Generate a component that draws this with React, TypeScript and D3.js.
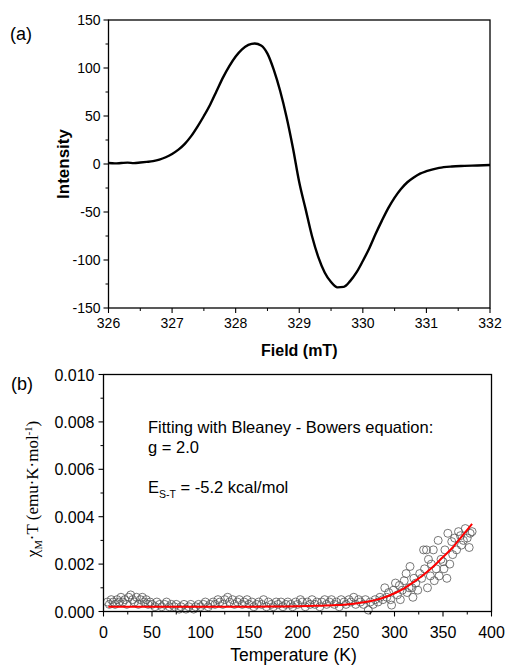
import React from "react";
import * as d3 from "d3";

// ---------- Panel (a): EPR spectrum ----------
const fieldMT = [326.0, 326.1, 326.2, 326.3, 326.4, 326.5, 326.6, 326.7, 326.8, 326.9, 327.0, 327.1, 327.2, 327.3, 327.4, 327.5, 327.6, 327.7, 327.8, 327.9, 328.0, 328.1, 328.2, 328.3, 328.4, 328.5, 328.6, 328.7, 328.8, 328.9, 329.0, 329.1, 329.2, 329.3, 329.4, 329.5, 329.6, 329.7, 329.8, 329.9, 330.0, 330.1, 330.2, 330.3, 330.4, 330.5, 330.6, 330.7, 330.8, 330.9, 331.0, 331.2, 331.4, 331.6, 331.8, 332.0];
const intensity = [1, 0.6, 1, 1.4, 0.9, 1.5, 2.2, 3, 4.5, 7, 10.5, 15, 21, 29, 39, 50, 62, 76, 90, 102, 112, 119.5, 124, 125.5, 123.5, 115, 98, 76, 49, 17, -19, -47, -75, -97, -113, -123, -128.5, -128, -122, -113, -101, -88, -73, -59, -46, -35, -26, -19, -14, -10, -7.5, -4, -2.6, -2, -1.5, -1];
const fieldTicks = [326, 327, 328, 329, 330, 331, 332];
const intensityTicks = [150, 100, 50, 0, -50, -100, -150];

// ---------- Panel (b): chi_M T vs T ----------
const tempK = [4, 6, 8, 10, 12, 14, 16, 18, 20, 22, 24, 26, 28, 30, 32, 34, 36, 38, 40, 42, 44, 46, 48, 50, 53, 55, 58, 60, 63, 65, 68, 70, 73, 75, 78, 80, 83, 85, 88, 90, 93, 95, 98, 100, 103, 105, 108, 110, 113, 115, 118, 120, 123, 125, 128, 130, 133, 135, 138, 140, 143, 145, 148, 150, 153, 155, 158, 160, 163, 165, 168, 170, 173, 175, 178, 180, 183, 185, 188, 190, 193, 195, 198, 200, 203, 205, 208, 210, 213, 215, 218, 220, 223, 225, 228, 230, 233, 235, 238, 240, 243, 245, 248, 250, 253, 255, 258, 260, 263, 265, 268, 270, 273, 275, 278, 280, 283, 285, 288, 290, 292, 294, 296, 297, 299, 301, 303, 305, 306, 308, 310, 312, 313, 315, 316, 318, 319, 320, 322, 324, 326, 328, 330, 331, 333, 334, 335, 337, 338, 340, 341, 343, 345, 346, 348, 350, 351, 352, 354, 355, 357, 359, 360, 362, 364, 366, 368, 369, 371, 373, 375, 377, 378, 380];
const chiT = [0.0004, 0.0003, 0.0005, 0.0004, 0.0003, 0.0005, 0.0004, 0.0006, 0.0004, 0.0005, 0.0003, 0.0006, 0.0007, 0.0005, 0.0004, 0.0006, 0.0003, 0.0005, 0.0006, 0.0004, 0.0005, 0.0003, 0.0004, 0.0003, 0.0002, 0.0004, 0.0003, 0.0002, 0.0003, 0.0004, 0.0002, 0.0003, 0.0002, 0.0003, 0.0001, 0.0002, 0.0003, 0.0001, 0.0002, 0.0003, 0.0001, 0.0002, 0.0003, 0.0002, 0.0003, 0.0004, 0.0002, 0.0003, 0.0004, 0.0003, 0.0005, 0.0004, 0.0003, 0.0005, 0.0006, 0.0004, 0.0005, 0.0003, 0.0004, 0.0005, 0.0003, 0.0004, 0.0005, 0.0003, 0.0004, 0.0002, 0.0003, 0.0004, 0.0003, 0.0005, 0.0002, 0.0004, 0.0003, 0.0002, 0.0004, 0.0003, 0.0004, 0.0002, 0.0003, 0.0004, 0.0003, 0.0002, 0.0004, 0.0003, 0.0005, 0.0004, 0.0002, 0.0004, 0.0003, 0.0005, 0.0003, 0.0004, 0.0002, 0.0004, 0.0005, 0.0003, 0.0004, 0.0005, 0.0003, 0.0004, 0.0002, 0.0005, 0.0004, 0.0003, 0.0005, 0.0004, 0.0006, 0.0003, 0.0005, 0.0004, 0.0003, 0.0005, 0.00006, 0.0004, 0.0003, 0.0005, 0.0004, 0.0006, 0.0005, 0.0010, 0.0006, 0.0008, 0.0005, 0.00027, 0.0009, 0.0012, 0.0007, 0.0011, 0.0005, 0.0009, 0.0013, 0.0016, 0.0008, 0.0010, 0.0019, 0.0010, 0.0006, 0.0014, 0.0012, 0.0009, 0.0016, 0.0014, 0.0026, 0.0018, 0.0026, 0.0010, 0.0022, 0.0015, 0.0020, 0.0026, 0.0013, 0.0018, 0.0030, 0.0015, 0.0022, 0.0021, 0.0018, 0.0026, 0.0014, 0.0033, 0.0020, 0.00295, 0.0024, 0.0031, 0.0026, 0.00337, 0.0032, 0.0028, 0.0030, 0.0035, 0.0031, 0.0027, 0.0033, 0.00337];
const fitT = [5, 50, 100, 150, 180, 200, 220, 240, 250, 260, 270, 280, 290, 300, 310, 320, 330, 340, 350, 360, 370, 380];
const fitChiT = [0.0002, 0.0002, 0.0002, 0.0002, 0.00021, 0.00022, 0.00024, 0.00027, 0.0003, 0.00034, 0.0004, 0.00048, 0.0006, 0.00077, 0.00098, 0.00125, 0.00155, 0.0019, 0.0023, 0.0027, 0.0032, 0.0037];
const tempTicks = [0, 50, 100, 150, 200, 250, 300, 350, 400];
const chiTicks = [0, 0.002, 0.004, 0.006, 0.008, 0.01];

const SANS = "Arial, 'Liberation Sans', sans-serif";
const SERIF = "'Times New Roman', 'Liberation Serif', serif";

export default function App() {
  const ax = d3.scaleLinear().domain([326, 332]).range([108.5, 490]);
  const ay = d3.scaleLinear().domain([-150, 150]).range([308, 20]);
  const eprLine = d3
    .line<number>()
    .x((_, i) => ax(fieldMT[i]))
    .y((d) => ay(d))
    .curve(d3.curveMonotoneX);

  const bx = d3.scaleLinear().domain([0, 400]).range([103.5, 491.5]);
  const by = d3.scaleLinear().domain([0, 0.01]).range([611.5, 374.5]);
  const fitLine = d3
    .line<number>()
    .x((_, i) => bx(fitT[i]))
    .y((d) => by(d))
    .curve(d3.curveMonotoneX);

  const aMinorX = d3.range(326, 332.01, 0.5).filter((v) => !fieldTicks.includes(v));
  const aMinorY = d3.range(-150, 150.01, 25).filter((v) => !intensityTicks.includes(v));
  const bMinorX = d3.range(0, 400.1, 25).filter((v) => !tempTicks.includes(v));
  const bMinorY = [0.001, 0.003, 0.005, 0.007, 0.009];

  const [ax0, ax1] = ax.range();
  const [ay0, ay1] = ay.range();
  const [bx0, bx1] = bx.range();
  const [by0, by1] = by.range();

  return (
    <svg
      width={506}
      height={665}
      style={{ position: "absolute", left: 0, top: 0, background: "#fff" }}
      fontFamily={SANS}
    >
      <rect x={0} y={0} width={506} height={665} fill="#fff" />

      {/* ---------------- Panel (a) ---------------- */}
      <text x={10} y={40} fontSize={18}>(a)</text>
      <path d={eprLine(intensity) || ""} fill="none" stroke="#000" strokeWidth={2.4} strokeLinejoin="round" />
      <rect x={ax0} y={ay1} width={ax1 - ax0} height={ay0 - ay1} fill="none" stroke="#000" strokeWidth={1.3} />
      {fieldTicks.map((t) => (
        <g key={"ax" + t}>
          <line x1={ax(t)} x2={ax(t)} y1={ay0} y2={ay0 + 5} stroke="#000" strokeWidth={1.1} />
          <text x={ax(t)} y={ay0 + 20} fontSize={14} textAnchor="middle">{t}</text>
        </g>
      ))}
      {aMinorX.map((t) => (
        <line key={"amx" + t} x1={ax(t)} x2={ax(t)} y1={ay0} y2={ay0 + 3} stroke="#000" strokeWidth={1} />
      ))}
      {intensityTicks.map((t) => (
        <g key={"ay" + t}>
          <line x1={ax0 - 5} x2={ax0} y1={ay(t)} y2={ay(t)} stroke="#000" strokeWidth={1.1} />
          <text x={ax0 - 8} y={ay(t) + 5} fontSize={14} textAnchor="end">{t < 0 ? "-" + Math.abs(t) : t}</text>
        </g>
      ))}
      {aMinorY.map((t) => (
        <line key={"amy" + t} x1={ax0 - 3} x2={ax0} y1={ay(t)} y2={ay(t)} stroke="#000" strokeWidth={1} />
      ))}
      <text x={(ax0 + ax1) / 2} y={356} fontSize={16} fontWeight="bold" textAnchor="middle">Field (mT)</text>
      <text transform={`translate(69,${(ay0 + ay1) / 2}) rotate(-90)`} fontSize={17} fontWeight="bold" textAnchor="middle">Intensity</text>

      {/* ---------------- Panel (b) ---------------- */}
      <text x={11} y={390} fontSize={18}>(b)</text>
      {chiT.map((v, i) => (
        <circle key={"pt" + i} cx={bx(tempK[i])} cy={by(v)} r={4} fill="none" stroke="#555" strokeWidth={0.8} />
      ))}
      <path d={fitLine(fitChiT) || ""} fill="none" stroke="#ff0000" strokeWidth={2} />
      <rect x={bx0} y={by1} width={bx1 - bx0} height={by0 - by1} fill="none" stroke="#000" strokeWidth={1.3} />
      {tempTicks.map((t) => (
        <g key={"bx" + t}>
          <line x1={bx(t)} x2={bx(t)} y1={by0} y2={by0 + 5} stroke="#000" strokeWidth={1.1} />
          <text x={bx(t)} y={by0 + 26} fontSize={16} textAnchor="middle">{t}</text>
        </g>
      ))}
      {bMinorX.map((t) => (
        <line key={"bmx" + t} x1={bx(t)} x2={bx(t)} y1={by0} y2={by0 + 3} stroke="#000" strokeWidth={1} />
      ))}
      {chiTicks.map((t) => (
        <g key={"by" + t}>
          <line x1={bx0 - 5} x2={bx0} y1={by(t)} y2={by(t)} stroke="#000" strokeWidth={1.1} />
          <text x={bx0 - 9} y={by(t) + 6} fontSize={16} textAnchor="end">{t.toFixed(3)}</text>
        </g>
      ))}
      {bMinorY.map((t) => (
        <line key={"bmy" + t} x1={bx0 - 3} x2={bx0} y1={by(t)} y2={by(t)} stroke="#000" strokeWidth={1} />
      ))}
      <text x={(bx0 + bx1) / 2 - 4} y={661} fontSize={17.5} textAnchor="middle">Temperature (K)</text>
      <text transform={`translate(38,${(by0 + by1) / 2 - 4}) rotate(-90)`} fontSize={17} fontFamily={SERIF} textAnchor="middle">
        χ<tspan fontSize={10.5} dy={4}>M</tspan>
        <tspan dy={-4}>·T (emu·K·mol</tspan>
        <tspan fontSize={10.5} dy={-6}>-1</tspan>
        <tspan dy={6}>)</tspan>
      </text>

      <text x={148} y={433} fontSize={16.5}>Fitting with Bleaney - Bowers equation:</text>
      <text x={148} y={453} fontSize={16.5}>g = 2.0</text>
      <text x={148} y={493} fontSize={16.5}>
        E<tspan fontSize={10.5} dy={5}>S-T</tspan>
        <tspan dy={-5}> = -5.2 kcal/mol</tspan>
      </text>
    </svg>
  );
}
